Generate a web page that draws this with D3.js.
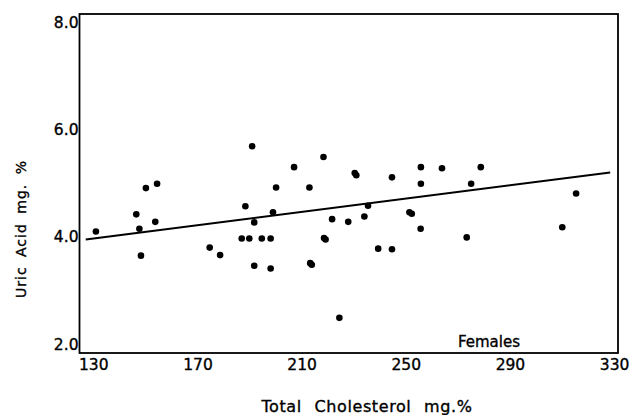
<!DOCTYPE html>
<html>
<head>
<meta charset="utf8">
<style>
body { margin: 0; background: #fff; }
text { font-family: "DejaVu Sans", sans-serif; fill: #000; stroke: #000; stroke-width: 0.35px; }
</style>
</head>
<body>
<div id="canvas"></div>
<script src="https://cdn.jsdelivr.net/npm/d3@7"></script>
<script>

// values
const cholesterol = [131.0, 146.5, 147.7, 148.3, 150.2, 154.5, 153.8, 174.7, 178.7, 187.0,
  188.4, 189.9, 191.0, 191.8, 191.8, 194.7, 198.1, 198.1, 199.0, 200.2,
  207.1, 213.0, 213.3, 213.9, 218.4, 218.6, 219.2, 221.7, 224.5, 227.9,
  230.4, 231.0, 234.1, 235.5, 239.4, 244.7, 244.7, 251.4, 252.3, 255.8,
  255.8, 255.7, 263.9, 273.4, 275.1, 278.8, 310.1, 315.4];
const uricAcid = [4.10, 4.42, 4.15, 3.65, 4.91, 4.99, 4.28, 3.80, 3.66, 3.97,
  4.57, 3.97, 5.69, 4.27, 3.46, 3.97, 3.97, 3.41, 4.46, 4.92,
  5.30, 4.92, 3.51, 3.48, 5.49, 3.98, 3.95, 4.33, 2.49, 4.28,
  5.19, 5.15, 4.38, 4.58, 3.78, 5.11, 3.77, 4.46, 4.43, 5.30,
  4.99, 4.15, 5.28, 3.99, 4.99, 5.30, 4.18, 4.81];

// regression line end points
const fitX = [127.1, 328.5];
const fitY = [3.95, 5.20];

const xTicks = [130, 170, 210, 250, 290, 330];
const yTicks = [2.0, 4.0, 6.0, 8.0];

const W = 634, H = 415;
const svg = d3.select("#canvas").append("svg")
    .attr("width", W)
    .attr("height", H)
    .attr("viewBox", `0 0 ${W} ${H}`);

const x = d3.scaleLinear().domain([130, 330]).range([93.3, 614.1]);
const y = d3.scaleLinear().domain([2, 8]).range([344.1, 22.4]);

// frame
const fl = 79.5, fr = 618, ft = 14, fb = 353;
svg.append("rect")
    .attr("x", fl).attr("y", ft)
    .attr("width", fr - fl).attr("height", fb - ft)
    .attr("fill", "none")
    .attr("stroke", "#000")
    .attr("stroke-width", 1.8);

// x axis labels
const xAxis = d3.axisBottom(x).tickValues(xTicks).tickSize(0).tickFormat(d3.format("d"));
const gx = svg.append("g").attr("transform", `translate(0,${fb})`).call(xAxis);
gx.select(".domain").remove();
gx.selectAll("text")
    .attr("y", 6)
    .style("font-size", "15.5px")
    .style("font-family", "DejaVu Sans, sans-serif");

// y axis labels
const yAxis = d3.axisLeft(y).tickValues(yTicks).tickSize(0).tickFormat(d3.format(".1f"));
const gy = svg.append("g").attr("transform", `translate(${fl - 1},0)`).call(yAxis);
gy.select(".domain").remove();
gy.selectAll("text")
    .attr("x", 0)
    .style("font-size", "15.5px")
    .style("font-family", "DejaVu Sans, sans-serif");

// regression line
const line = d3.line().x(d => x(d[0])).y(d => y(d[1]));
svg.append("path")
    .datum(fitX.map((v, i) => [v, fitY[i]]))
    .attr("fill", "none")
    .attr("stroke", "#000")
    .attr("stroke-width", 2)
    .attr("d", line);

// points
svg.append("g").selectAll("circle")
    .data(cholesterol.map((v, i) => [v, uricAcid[i]]))
    .join("circle")
    .attr("cx", d => x(d[0]))
    .attr("cy", d => y(d[1]))
    .attr("r", 3.3)
    .attr("fill", "#000");

svg.append("text")
    .attr("x", 489).attr("y", 346.5)
    .attr("text-anchor", "middle")
    .style("font-size", "15px")
    .text("Females");

// axis titles
svg.append("text")
    .attr("x", 367).attr("y", 411.5)
    .attr("text-anchor", "middle")
    .style("font-size", "16px")
    .style("letter-spacing", "0.6px")
    .style("word-spacing", "7px")
    .text("Total Cholesterol mg.%");

svg.append("text")
    .attr("transform", "translate(26,229) rotate(-90)")
    .attr("text-anchor", "middle")
    .style("font-size", "14px")
    .style("letter-spacing", "1px")
    .style("word-spacing", "4px")
    .text("Uric Acid mg. %");
</script>
</body>
</html>
